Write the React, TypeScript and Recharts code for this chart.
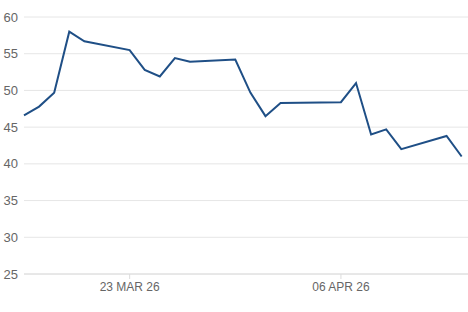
import { LineChart, Line, XAxis, YAxis, CartesianGrid } from "recharts";

// trading days (weekends / holidays missing)
const dates = [
  "2026-03-16", "2026-03-17", "2026-03-18", "2026-03-19", "2026-03-20",
  "2026-03-23", "2026-03-24", "2026-03-25", "2026-03-26", "2026-03-27",
  "2026-03-30", "2026-03-31", "2026-04-01", "2026-04-02",
  "2026-04-06", "2026-04-07", "2026-04-08", "2026-04-09", "2026-04-10",
  "2026-04-13", "2026-04-14",
];

const prices = [
  46.6, 47.8, 49.7, 58.0, 56.7,
  55.5, 52.8, 51.9, 54.4, 53.9,
  54.2, 49.7, 46.5, 48.3,
  48.4, 51.0, 44.0, 44.7, 42.0,
  43.8, 41.0,
];

const yTicks = [25, 30, 35, 40, 45, 50, 55, 60];
const xTickDates = ["2026-03-23", "2026-04-06"];
const xTickLabels = ["23 MAR 26", "06 APR 26"];

const DAY = 86400000;
const start = Date.parse(dates[0]);
const toDay = (d: string) => (Date.parse(d) - start) / DAY;

const data = dates.map((d, i) => ({ day: toDay(d), price: prices[i] }));
const xTicks = xTickDates.map(toDay);

export default function App() {
  return (
    <div style={{ position: "absolute", left: 0, top: 0, fontFamily: "'Liberation Sans', Arial, sans-serif" }}>
      <LineChart
        width={468}
        height={312}
        data={data}
        margin={{ top: 17, right: 0, left: 0, bottom: 8 }}
      >
        <CartesianGrid vertical={false} stroke="#e6e6e6" />
        <XAxis
          dataKey="day"
          type="number"
          domain={[0, 29.42]}
          ticks={xTicks}
          tickFormatter={(v) => xTickLabels[xTicks.indexOf(v)]}
          height={30}
          stroke="#dcdcdc"
          tick={{ fill: "#666", fontSize: 12 }}
          tickSize={5}
          tickMargin={3}
        />
        <YAxis
          domain={[25, 60]}
          ticks={yTicks}
          width={24}
          axisLine={false}
          tickLine={false}
          tickSize={6}
          tickMargin={0}
          tick={{ fill: "#666", fontSize: 13 }}
        />
        <Line
          type="linear"
          dataKey="price"
          stroke="#1f4f86"
          strokeWidth={2}
          dot={false}
          isAnimationActive={false}
        />
      </LineChart>
    </div>
  );
}
